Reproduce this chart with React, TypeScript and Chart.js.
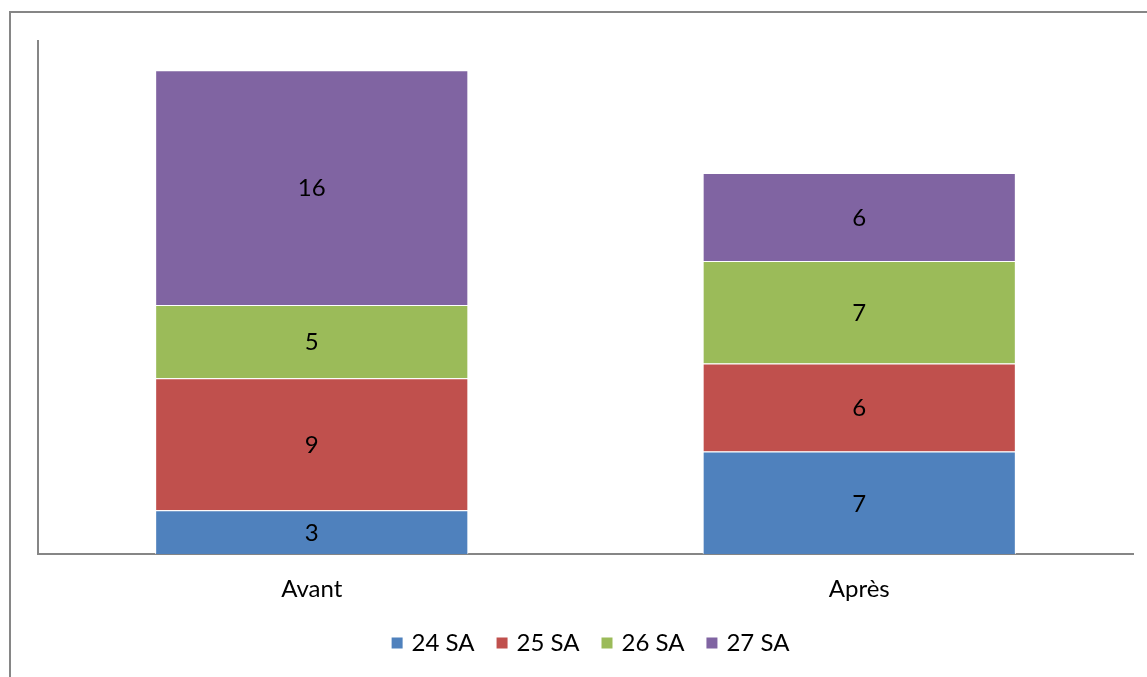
import React, { useEffect, useRef } from "react";
import { Chart, registerables } from "chart.js";

Chart.register(...registerables);

const categories = ["Avant", "Après"];
const seriesNames = ["24 SA", "25 SA", "26 SA", "27 SA"];
const s24 = [3, 7];
const s25 = [9, 6];
const s26 = [5, 7];
const s27 = [16, 6];
const seriesColors = ["#4F81BD", "#C0504D", "#9BBB59", "#8064A2"];
const yMax = 35;

const FONT = "Lato, 'Open Sans', 'DejaVu Sans', sans-serif";
const FONT_SIZE = 24;

const frameAndLabels = {
  id: "frameAndLabels",
  afterDraw(chart: any) {
    const ctx = chart.ctx;
    ctx.save();
    ctx.strokeStyle = "#868686";
    ctx.lineWidth = 2;
    ctx.strokeRect(10, 12, 1300, 800);

    // legend
    const area = chart.chartArea;
    const box = 11;
    const gapText = 9;
    const gapItem = 22;
    ctx.font = `${FONT_SIZE}px ${FONT}`;
    ctx.textBaseline = "middle";
    ctx.textAlign = "left";
    const items = chart.data.datasets.map((ds: any) => ({
      label: ds.label,
      color: ds.backgroundColor,
      w: ctx.measureText(ds.label).width,
    }));
    let total = 0;
    items.forEach((it: any, i: number) => {
      total += box + gapText + it.w + (i < items.length - 1 ? gapItem : 0);
    });
    const cx = (area.left + area.right) / 2 + 5;
    const cy = 643;
    let x = cx - total / 2;
    items.forEach((it: any) => {
      ctx.fillStyle = it.color;
      ctx.fillRect(x, cy - box / 2, box, box);
      ctx.fillStyle = "#000";
      ctx.fillText(it.label, x + box + gapText, cy);
      x += box + gapText + it.w + gapItem;
    });
    ctx.restore();
  },
  afterDatasetsDraw(chart: any) {
    const ctx = chart.ctx;
    ctx.save();
    ctx.fillStyle = "#000000";
    ctx.font = `${FONT_SIZE}px ${FONT}`;
    ctx.textAlign = "center";
    ctx.textBaseline = "middle";
    chart.data.datasets.forEach((ds: any, i: number) => {
      const meta = chart.getDatasetMeta(i);
      meta.data.forEach((bar: any, j: number) => {
        const v = ds.data[j];
        const yc = (bar.y + bar.base) / 2;
        ctx.fillText(String(v), bar.x, yc + 1);
      });
    });
    ctx.restore();
  },
};

export default function App() {
  const ref = useRef<HTMLCanvasElement | null>(null);
  useEffect(() => {
    if (!ref.current) return;
    const values = [s24, s25, s26, s27];
    const chart = new Chart(ref.current, {
      type: "bar",
      data: {
        labels: categories,
        datasets: seriesNames.map((n, i) => ({
          label: n,
          data: values[i],
          backgroundColor: seriesColors[i],
          borderColor: "#FFFFFF",
          borderWidth: 1,
          barPercentage: 0.572,
          categoryPercentage: 1,
        })),
      },
      options: {
        responsive: false,
        animation: false,
        maintainAspectRatio: false,
        layout: { padding: { left: 38, top: 41, right: 14, bottom: 52 } },
        scales: {
          x: {
            stacked: true,
            grid: { display: false, drawTicks: false },
            border: { display: true, color: "#868686", width: 2 },
            ticks: { color: "#000", font: { family: FONT, size: FONT_SIZE }, padding: 21 },
          },
          y: {
            stacked: true,
            min: 0,
            max: yMax,
            grid: { display: false, drawTicks: false },
            border: { display: true, color: "#868686", width: 2 },
            ticks: { display: false },
          },
        },
        plugins: {
          legend: { display: false },
          tooltip: { enabled: false },
        },
      },
      plugins: [frameAndLabels],
    });
    return () => chart.destroy();
  }, []);
  return (
    <div style={{ position: "fixed", left: 0, top: 0, width: 1147, height: 677, background: "#fff" }}>
      <canvas ref={ref} width={1147} height={677} />
    </div>
  );
}
